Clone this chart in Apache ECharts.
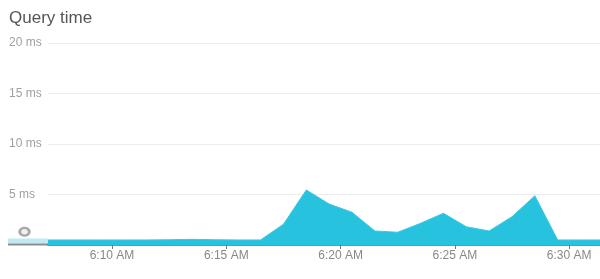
<!DOCTYPE html>
<html>
<head>
<meta charset="utf-8">
<script src="https://cdn.jsdelivr.net/npm/echarts@6/dist/echarts.min.js"></script>
<style>
html,body{margin:0;padding:0;background:#fff;}
#c{width:600px;height:279px;}
</style>
</head>
<body>
<div id="c"></div>
<script>
// minutes after 6:00 AM
var minutes = [6.5,7.5,8.5,9.5,10.5,11.5,12.5,13.5,14.5,15.5,16.5,17.5,18.5,19.5,20.5,21.5,22.5,23.5,24.5,25.5,26.5,27.5,28.5,29.5,30.5,31.5];
var queryMs = [0.5,0.5,0.5,0.5,0.5,0.5,0.52,0.56,0.52,0.5,0.5,2.05,5.45,4.06,3.24,1.39,1.26,2.15,3.14,1.81,1.39,2.8,4.88,0.5,0.5,0.5];
var xTickMinutes = [10,15,20,25,30];
var yTicks = [0,5,10,15,20];

var chart = echarts.init(document.getElementById('c'), null, {renderer:'canvas'});
var data = minutes.map(function(m,i){return [m, queryMs[i]];});
chart.setOption({
  animation:false,
  title:{text:'Query time', left:9, top:10, padding:0, textStyle:{fontFamily:'Liberation Sans', fontSize:17, fontWeight:'normal', color:'#555'}},
  grid:{left:48, right:0, top:43, bottom:34, containLabel:false},
  xAxis:{
    type:'value', min:7.2, max:31.35,
    axisLine:{show:true, lineStyle:{color:'#8c8c8c', width:2}},
    axisTick:{show:true, customValues:xTickMinutes, length:4, lineStyle:{color:'#777', width:1}},
    axisLabel:{show:true, customValues:xTickMinutes, margin:5, fontFamily:'Liberation Sans', fontSize:12, color:'#888',
      formatter:function(v){return '6:' + v + ' AM';}},
    splitLine:{show:false}
  },
  yAxis:{
    type:'value', min:0, max:20, interval:5,
    axisLine:{show:false}, axisTick:{show:false},
    axisLabel:{show:true, align:'left', margin:39, fontFamily:'Liberation Sans', fontSize:12, color:'#a0a0a0',
      formatter:function(v){return v===0 ? '' : v + ' ms';}},
    splitLine:{show:true, lineStyle:{color:'#ececec', width:1}}
  },
  series:[{
    type:'line', data:data, symbol:'none', clip:true,
    lineStyle:{color:'#3cc8e2', width:1},
    areaStyle:{color:'#26c2de', opacity:1},
    z:3
  }],
  graphic:[
    {type:'rect', shape:{x:8, y:238.5, width:40, height:5}, style:{fill:'#bfeaf3'}, z:10},
    {type:'rect', shape:{x:8, y:243.5, width:40, height:2}, style:{fill:'#8c8c8c'}, z:10},
    {type:'ellipse', shape:{cx:24.5, cy:231.7, rx:6.2, ry:5}, style:{fill:'#a8a8a8'}, z:10},
    {type:'ellipse', shape:{cx:24.5, cy:231.7, rx:3.4, ry:2.8}, style:{fill:'#f0f0f0'}, z:11}
  ]
});
</script>
</body>
</html>
